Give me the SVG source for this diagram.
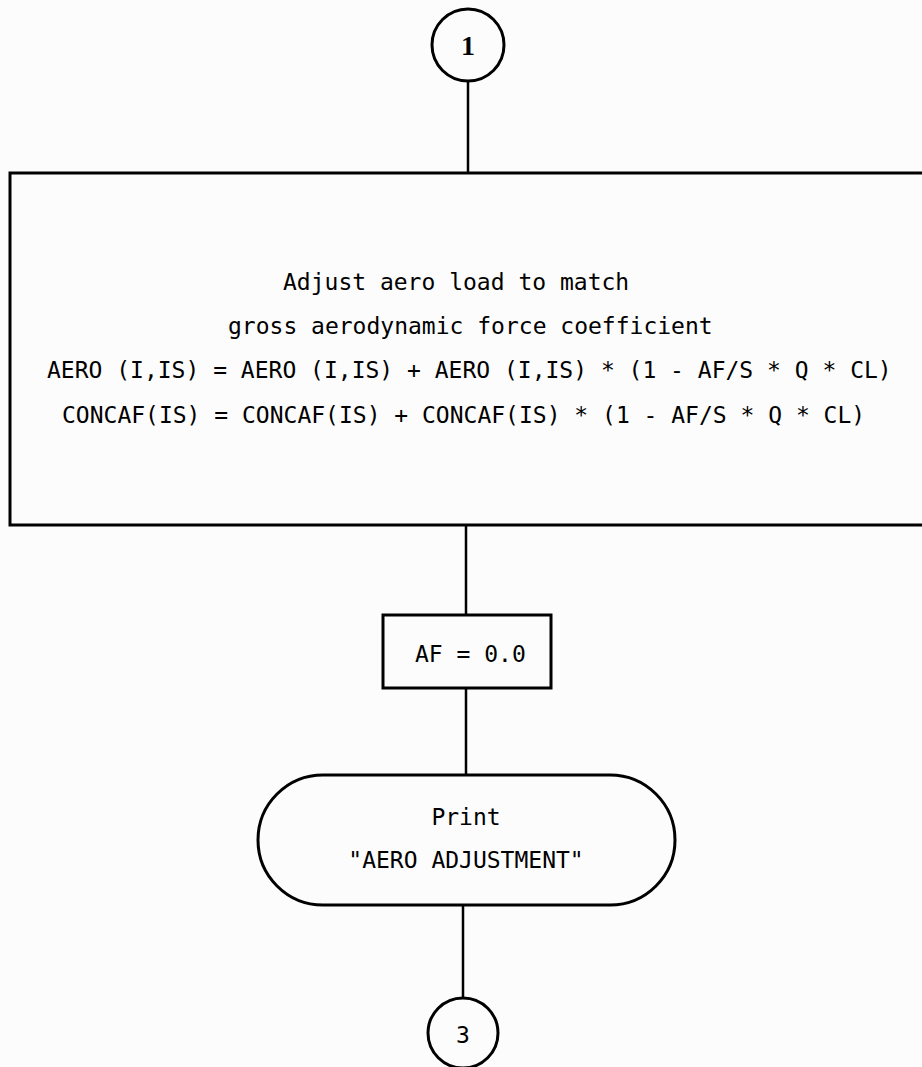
<svg xmlns="http://www.w3.org/2000/svg" width="922" height="1067" viewBox="0 0 922 1067">
<style>
.s{fill:none;stroke:#000;stroke-width:3}
.c{fill:none;stroke:#000;stroke-width:2.5}
.t{font-family:"DejaVu Sans Mono","Liberation Mono",monospace;font-size:23px;fill:#000}
.m{text-anchor:middle}
</style>
<rect width="922" height="1067" fill="#fcfcfc"/>
<g id="connectors">
<line class="c" x1="468" y1="82" x2="468" y2="173"/>
<line class="c" x1="466" y1="525" x2="466" y2="615"/>
<line class="c" x1="466" y1="688" x2="466" y2="775"/>
<line class="c" x1="463" y1="905" x2="463" y2="998"/>
</g>
<g id="node-1">
<circle class="s" cx="468" cy="45" r="36"/>
<text class="t m" x="468" y="55" style="font-size:28px;font-family:'Liberation Serif',serif;font-weight:bold">1</text>
</g>
<g id="node-adjust">
<rect class="s" x="10" y="173" width="930" height="352"/>
<text class="t" x="283" y="290">Adjust aero load to match</text>
<text class="t" x="228" y="334">gross aerodynamic force coefficient</text>
<text class="t" x="47" y="378">AERO (I,IS) = AERO (I,IS) + AERO (I,IS) * (1 - AF/S * Q * CL)</text>
<text class="t" x="62" y="423">CONCAF(IS) = CONCAF(IS) + CONCAF(IS) * (1 - AF/S * Q * CL)</text>
</g>
<g id="node-af">
<rect class="s" x="383" y="615" width="168" height="73"/>
<text class="t" x="415" y="662">AF = 0.0</text>
</g>
<g id="node-print">
<rect class="s" x="258" y="775" width="417" height="130" rx="65" ry="65"/>
<text class="t m" x="466" y="825">Print</text>
<text class="t m" x="466" y="868">"AERO ADJUSTMENT"</text>
</g>
<g id="node-3">
<circle class="s" cx="463" cy="1033" r="35"/>
<text class="t m" x="463" y="1043">3</text>
</g>
</svg>
